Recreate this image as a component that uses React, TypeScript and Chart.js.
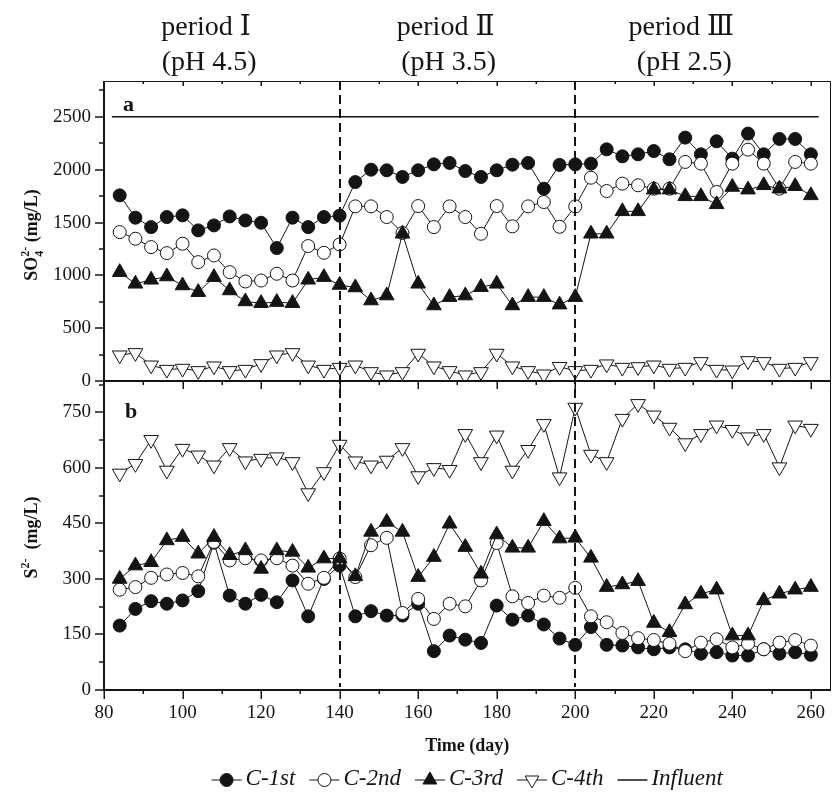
import React, { useEffect, useRef } from "react";
import { Chart, registerables } from "chart.js";

Chart.register(...registerables);

// ---------- data ----------
const days = [84, 88, 92, 96, 100, 104, 108, 112, 116, 120, 124, 128, 132, 136, 140,
  144, 148, 152, 156, 160, 164, 168, 172, 176, 180, 184, 188, 192, 196, 200,
  204, 208, 212, 216, 220, 224, 228, 232, 236, 240, 244, 248, 252, 256, 260];

// panel a: SO4 2- (mg/L)
const so4C1 = [1757, 1546, 1457, 1552, 1568, 1426, 1473, 1558, 1520, 1498, 1259, 1546, 1457, 1552, 1565,
  1883, 2000, 1994, 1931, 1994, 2050, 2063, 1987, 1931, 1994, 2047, 2063, 1820, 2045, 2050,
  2057, 2192, 2126, 2145, 2176, 2098, 2303, 2145, 2268, 2104, 2341, 2145, 2290, 2290, 2145];
const so4C2 = [1410, 1347, 1268, 1211, 1300, 1126, 1189, 1031, 943, 952, 1016, 952, 1278, 1214, 1293,
  1653, 1653, 1552, 1401, 1656, 1457, 1653, 1552, 1394, 1656, 1464, 1653, 1694, 1460, 1653,
  1924, 1798, 1868, 1852, 1820, 1820, 2073, 2057, 1789, 2057, 2189, 2057, 1820, 2073, 2057];
const so4C3 = [1031, 921, 959, 990, 905, 842, 984, 858, 754, 738, 748, 738, 959, 984, 910,
  886, 763, 810, 1394, 921, 716, 795, 810, 889, 921, 716, 795, 795, 724, 795,
  1394, 1394, 1606, 1606, 1811, 1811, 1748, 1748, 1672, 1836, 1811, 1852, 1820, 1843, 1757];
const so4C4 = [246, 268, 151, 110, 120, 98, 142, 98, 110, 164, 246, 268, 151, 110, 129,
  151, 88, 57, 88, 262, 142, 98, 57, 88, 262, 142, 98, 66, 137, 98,
  110, 161, 129, 135, 151, 120, 129, 183, 110, 104, 192, 183, 120, 129, 183];
const influentDays = [82, 262];
const influentSO4 = [2500, 2500];

// panel b: S2- (mg/L)
const sC1 = [174, 219, 240, 233, 242, 267, 398, 255, 233, 257, 237, 296, 199, 300, 336,
  199, 213, 201, 201, 233, 105, 147, 136, 127, 228, 190, 201, 177, 139, 122,
  170, 122, 120, 115, 110, 115, 110, 98, 102, 93, 93, 110, 98, 102, 95];
const sC2 = [271, 278, 303, 312, 316, 307, 400, 350, 356, 350, 356, 336, 287, 303, 355,
  305, 391, 411, 208, 246, 192, 233, 226, 296, 397, 253, 235, 255, 249, 276,
  199, 183, 154, 140, 135, 125, 105, 128, 137, 115, 125, 110, 128, 135, 120];
const sC3 = [300, 336, 345, 404, 413, 368, 413, 364, 377, 327, 377, 373, 330, 355, 355,
  307, 427, 454, 427, 305, 359, 449, 386, 314, 420, 384, 384, 456, 409, 411,
  357, 278, 285, 294, 181, 156, 231, 260, 271, 147, 147, 242, 260, 271, 278];
const sC4 = [585, 611, 676, 593, 652, 634, 607, 654, 618, 625, 629, 616, 532, 589, 663,
  618, 607, 620, 654, 578, 600, 595, 692, 616, 688, 593, 649, 719, 575, 763,
  636, 616, 733, 773, 742, 709, 667, 692, 715, 703, 683, 692, 602, 715, 706];

// axes / labels
const xTicks = [80, 100, 120, 140, 160, 180, 200, 220, 240, 260];
const so4Ticks = [0, 500, 1000, 1500, 2000, 2500];
const sTicks = [0, 150, 300, 450, 600, 750];
const periodBoundaries = [140, 200];
const periodNames = ["period \u2160", "period \u2161", "period \u2162"];
const periodPH = ["(pH 4.5)", "(pH 3.5)", "(pH 2.5)"];
const periodCenters = [106, 167, 227];
const seriesNames = ["C-1st", "C-2nd", "C-3rd", "C-4th", "Influent"];

const SERIF = "'Liberation Serif', 'DejaVu Serif', serif";
const INK = "#141414";

function pts(xs: number[], ys: number[]) {
  return xs.map((x, i) => ({ x, y: ys[i] }));
}

function drawMarker(ctx: CanvasRenderingContext2D, kind: number, x: number, y: number, r: number) {
  ctx.save();
  ctx.lineWidth = 1;
  ctx.strokeStyle = INK;
  ctx.beginPath();
  if (kind === 0 || kind === 1) {
    ctx.arc(x, y, r, 0, Math.PI * 2);
  } else if (kind === 2) {
    const h = r * Math.sqrt(3) / 2;
    ctx.moveTo(x, y - r);
    ctx.lineTo(x + h, y + r / 2);
    ctx.lineTo(x - h, y + r / 2);
    ctx.closePath();
  } else if (kind === 3) {
    const h = r * Math.sqrt(3) / 2;
    ctx.moveTo(x, y + r);
    ctx.lineTo(x + h, y - r / 2);
    ctx.lineTo(x - h, y - r / 2);
    ctx.closePath();
  }
  if (kind !== 4) {
    ctx.fillStyle = kind === 0 || kind === 2 ? INK : "#fff";
    ctx.fill();
    ctx.stroke();
  }
  ctx.restore();
}

type Part = { t: string; kind: "n" | "sub" | "sup" | "supStack" };

function drawVerticalRich(ctx: CanvasRenderingContext2D, cx: number, cy: number, parts: Part[], size: number) {
  const small = Math.round(size * 0.68);
  const fN = `bold ${size}px ${SERIF}`;
  const fS = `bold ${small}px ${SERIF}`;
  let total = 0;
  let lastSubW = 0;
  const widths: number[] = [];
  parts.forEach((p) => {
    ctx.font = p.kind === "n" ? fN : fS;
    widths.push(ctx.measureText(p.t).width);
  });
  parts.forEach((p, i) => {
    if (p.kind === "supStack") {
      total += Math.max(0, widths[i] - lastSubW);
    } else {
      total += widths[i];
    }
    lastSubW = p.kind === "sub" ? widths[i] : 0;
  });
  ctx.save();
  ctx.translate(cx, cy);
  ctx.rotate(-Math.PI / 2);
  ctx.fillStyle = INK;
  ctx.textBaseline = "alphabetic";
  ctx.textAlign = "left";
  let x = -total / 2;
  const base = size * 0.35;
  let subStart = 0;
  let subW = 0;
  parts.forEach((p, i) => {
    ctx.font = p.kind === "n" ? fN : fS;
    if (p.kind === "n") {
      ctx.fillText(p.t, x, base);
      x += widths[i];
      subW = 0;
    } else if (p.kind === "sub") {
      subStart = x;
      ctx.fillText(p.t, x, base + size * 0.3);
      x += widths[i];
      subW = widths[i];
    } else if (p.kind === "supStack") {
      ctx.fillText(p.t, subStart, base - size * 0.45);
      x = subStart + Math.max(subW, widths[i]);
      subW = 0;
    } else {
      ctx.fillText(p.t, x, base - size * 0.45);
      x += widths[i];
    }
  });
  ctx.restore();
}

const decorPlugin = {
  id: "decor",
  afterDatasetsDraw(chart: any) {
    const { ctx, chartArea } = chart;
    const xs = chart.scales.x;
    ctx.save();
    ctx.strokeStyle = INK;
    ctx.lineWidth = 2;
    ctx.setLineDash([9, 5]);
    periodBoundaries.forEach((d) => {
      const px = Math.round(xs.getPixelForValue(d));
      ctx.beginPath();
      ctx.moveTo(px, chartArea.top);
      ctx.lineTo(px, chartArea.bottom - 3);
      ctx.stroke();
    });
    ctx.restore();
  },
  afterDraw(chart: any) {
    const { ctx, chartArea } = chart;
    const xs = chart.scales.x;
    const ya = chart.scales.yA;
    const yb = chart.scales.yB;
    const L = Math.round(chartArea.left);
    const R = Math.round(chartArea.right) - 1;
    const T = Math.round(ya.getPixelForValue(ya.max));
    const M = Math.round(ya.getPixelForValue(0));
    const B = Math.round(yb.getPixelForValue(0));

    ctx.save();
    ctx.strokeStyle = INK;
    ctx.setLineDash([]);
    ctx.lineWidth = 1;
    ctx.beginPath();
    ctx.moveTo(L, T + 0.5);
    ctx.lineTo(R + 0.5, T + 0.5);
    ctx.lineTo(R + 0.5, B);
    ctx.stroke();
    ctx.lineWidth = 2;
    ctx.beginPath();
    ctx.moveTo(L, T);
    ctx.lineTo(L, B + 1);
    ctx.moveTo(L - 1, M);
    ctx.lineTo(R + 1, M);
    ctx.moveTo(L - 1, B);
    ctx.lineTo(R + 1, B);
    ctx.stroke();

    ctx.lineWidth = 1.5;
    ctx.beginPath();
    for (let d = xTicks[0]; d <= xTicks[xTicks.length - 1]; d += 10) {
      const major = xTicks.includes(d);
      const px = Math.round(xs.getPixelForValue(d)) + 0.25;
      if (d !== xTicks[0]) {
        ctx.moveTo(px, T);
        ctx.lineTo(px, T + (major ? 5 : 3));
        ctx.moveTo(px, M);
        ctx.lineTo(px, M + (major ? 8 : 4));
      }
      ctx.moveTo(px, B);
      ctx.lineTo(px, B + (major ? 9 : 4));
    }
    const stepA = so4Ticks[1] - so4Ticks[0];
    for (let v = 0; v <= ya.max; v += stepA / 2) {
      const py = Math.round(ya.getPixelForValue(v));
      const major = so4Ticks.includes(v);
      ctx.moveTo(L, py);
      ctx.lineTo(L - (major ? 9 : 5), py);
    }
    const stepB = sTicks[1] - sTicks[0];
    for (let v = 0; v <= yb.max; v += stepB / 2) {
      const py = Math.round(yb.getPixelForValue(v));
      const major = sTicks.includes(v);
      ctx.moveTo(L, py);
      ctx.lineTo(L - (major ? 9 : 5), py);
    }
    ctx.stroke();

    ctx.fillStyle = INK;
    ctx.font = `19px ${SERIF}`;
    ctx.textAlign = "right";
    ctx.textBaseline = "middle";
    so4Ticks.forEach((v) => ctx.fillText(String(v), L - 13, ya.getPixelForValue(v)));
    sTicks.forEach((v) => ctx.fillText(String(v), L - 13, yb.getPixelForValue(v)));
    ctx.textAlign = "center";
    xTicks.forEach((v) => ctx.fillText(String(v), xs.getPixelForValue(v), B + 23));

    ctx.font = `bold 22px ${SERIF}`;
    ctx.textAlign = "left";
    ctx.textBaseline = "alphabetic";
    ctx.fillText("a", L + 19, T + 30);
    ctx.fillText("b", L + 21, M + 37);

    ctx.font = `bold 18px ${SERIF}`;
    ctx.textAlign = "center";
    ctx.textBaseline = "middle";
    ctx.fillText("Time (day)", (chartArea.left + chartArea.right) / 2, B + 56);

    drawVerticalRich(ctx, 31, (T + M) / 2 + 4, [
      { t: "SO", kind: "n" },
      { t: "4", kind: "sub" },
      { t: "2-", kind: "supStack" },
      { t: " (mg/L)", kind: "n" },
    ], 18);
    drawVerticalRich(ctx, 31, (M + B) / 2 + 2, [
      { t: "S", kind: "n" },
      { t: "2-", kind: "sup" },
      { t: "  (mg/L)", kind: "n" },
    ], 18);

    ctx.font = `28px ${SERIF}`;
    ctx.textAlign = "center";
    ctx.textBaseline = "middle";
    periodNames.forEach((name, i) => {
      const cx = xs.getPixelForValue(periodCenters[i]);
      ctx.fillText(name, cx, 28);
      ctx.fillText(periodPH[i], cx + 3, 63);
    });

    ctx.font = `italic 23px ${SERIF}`;
    ctx.textBaseline = "middle";
    ctx.textAlign = "left";
    const seg = 30;
    const gap = 4;
    const itemGap = 14;
    const widths = seriesNames.map((n) => seg + gap + ctx.measureText(n).width);
    const total = widths.reduce((a, b) => a + b, 0) + itemGap * (widths.length - 1);
    let lx = (chartArea.left + chartArea.right) / 2 - total / 2;
    const ly = 779;
    seriesNames.forEach((n, i) => {
      ctx.strokeStyle = INK;
      ctx.lineWidth = i === 4 ? 1.5 : 1;
      ctx.beginPath();
      ctx.moveTo(lx, ly + 1);
      ctx.lineTo(lx + seg, ly + 1);
      ctx.stroke();
      drawMarker(ctx, i, lx + seg / 2, ly + 1, i >= 2 ? 8 : 6.5);
      ctx.fillStyle = INK;
      ctx.fillText(n, lx + seg + gap, ly);
      lx += widths[i] + itemGap;
    });
    ctx.restore();
  },
};

function lineDs(label: string, data: any[], yAxisID: string, kind: number, order: number) {
  const filled = kind === 0 || kind === 2;
  const isTri = kind === 2 || kind === 3;
  return {
    label,
    data,
    yAxisID,
    xAxisID: "x",
    order,
    borderColor: INK,
    borderWidth: 1,
    backgroundColor: filled ? INK : "#ffffff",
    pointBackgroundColor: filled ? INK : "#ffffff",
    pointBorderColor: INK,
    pointBorderWidth: 1,
    pointStyle: isTri ? "triangle" : "circle",
    pointRotation: kind === 3 ? 180 : 0,
    pointRadius: isTri ? 8.5 : 6.5,
    tension: 0,
    fill: false,
  };
}

export default function App() {
  const ref = useRef<HTMLCanvasElement | null>(null);

  useEffect(() => {
    if (!ref.current) return;
    const chart = new Chart(ref.current, {
      type: "line",
      data: {
        datasets: [
          {
            label: seriesNames[4],
            data: pts(influentDays, influentSO4),
            yAxisID: "yA",
            xAxisID: "x",
            order: 9,
            borderColor: INK,
            borderWidth: 1.5,
            pointRadius: 0,
            fill: false,
          } as any,
          lineDs(seriesNames[0], pts(days, so4C1), "yA", 0, 8),
          lineDs(seriesNames[1], pts(days, so4C2), "yA", 1, 7),
          lineDs(seriesNames[2], pts(days, so4C3), "yA", 2, 6),
          lineDs(seriesNames[3], pts(days, so4C4), "yA", 3, 5),
          lineDs(seriesNames[0], pts(days, sC1), "yB", 0, 4),
          lineDs(seriesNames[1], pts(days, sC2), "yB", 1, 3),
          lineDs(seriesNames[2], pts(days, sC3), "yB", 2, 2),
          lineDs(seriesNames[3], pts(days, sC4), "yB", 3, 1),
        ],
      },
      options: {
        responsive: false,
        animation: false,
        devicePixelRatio: 1,
        events: [],
        layout: { padding: { left: 104, right: 0, top: 81, bottom: 106 } },
        scales: {
          x: { type: "linear", min: 80, max: 265, display: false },
          yB: { type: "linear", min: 0, max: 834, display: false, position: "left", stack: "panels", stackWeight: 308.5 },
          yA: { type: "linear", min: 0, max: 2838, display: false, position: "left", stack: "panels", stackWeight: 300 },
        },
        plugins: {
          legend: { display: false },
          tooltip: { enabled: false },
        },
      },
      plugins: [decorPlugin],
    } as any);
    return () => chart.destroy();
  }, []);

  return (
    <div style={{ position: "absolute", left: 0, top: 0, width: 840, height: 796, background: "#fff" }}>
      <canvas ref={ref} width={840} height={796} style={{ display: "block", width: 840, height: 796 }} />
    </div>
  );
}
